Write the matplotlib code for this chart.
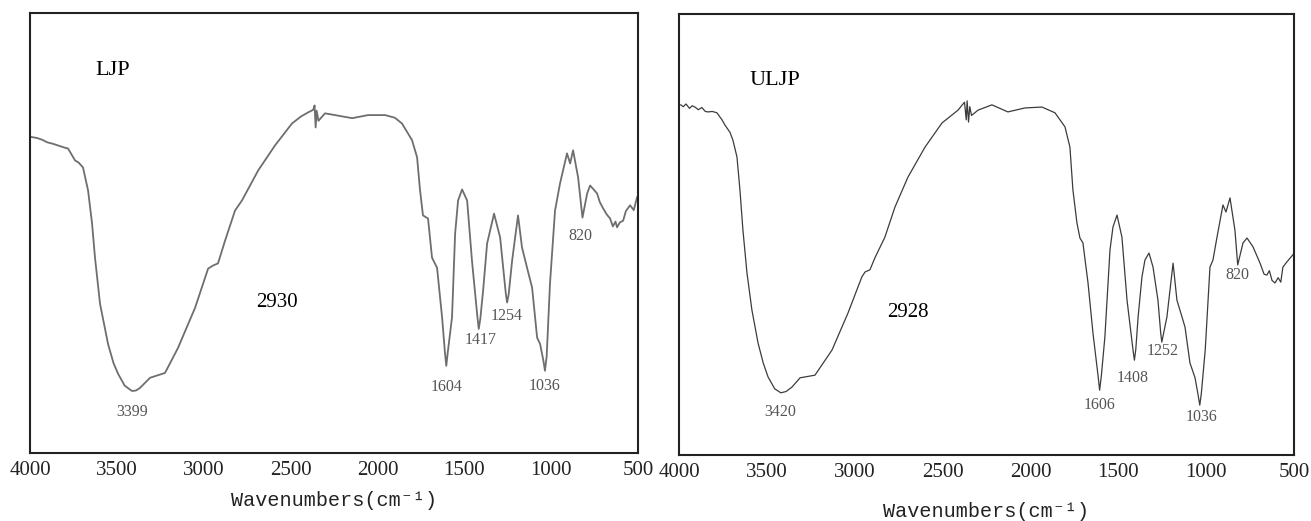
import matplotlib
matplotlib.use("Agg")
import matplotlib.pyplot as plt

# ---- data (wavenumber, transmittance %) ----
ljp_wn = [3990, 3960, 3930, 3900, 3870, 3839, 3800, 3781, 3741, 3720, 3695, 3666, 3643, 3626,
          3597, 3551, 3520, 3493, 3455, 3413, 3390, 3367, 3309, 3223, 3148, 3050, 2975, 2947,
          2918, 2877, 2820, 2780, 2687, 2590, 2492, 2440, 2400, 2370, 2362, 2356, 2350, 2340,
          2302, 2244, 2146, 2054, 1956, 1900, 1859, 1801, 1772, 1755, 1738, 1709, 1686, 1657,
          1628, 1612, 1604, 1595, 1571, 1553, 1536, 1513, 1484, 1456, 1425, 1417, 1408, 1392,
          1369, 1329, 1294, 1262, 1254, 1245, 1225, 1191, 1168, 1139, 1110, 1081, 1064, 1045,
          1036, 1026, 1007, 978, 949, 909, 891, 874, 845, 820, 793, 776, 736, 720, 701, 680,
          661, 645, 630, 621, 605, 586, 570, 546, 525, 506]
ljp_t = [71.8, 71.6, 71.2, 70.6, 70.3, 69.9, 69.4, 69.2, 66.5, 66.0, 64.9, 59.7, 52.2, 44.4,
         33.9, 24.8, 20.5, 18.0, 15.3, 14.1, 14.2, 14.8, 17.1, 18.2, 23.9, 33.0, 41.9, 42.6,
         43.1, 48.3, 55.1, 57.4, 64.2, 69.9, 74.9, 76.5, 77.4, 78.0, 79.0, 74.0, 77.8, 75.5,
         77.2, 76.8, 76.1, 76.8, 76.8, 76.2, 74.9, 71.1, 67.2, 59.7, 54.0, 53.3, 44.4, 42.1,
         30.8, 23.0, 19.8, 23.0, 30.8, 49.9, 57.4, 59.9, 57.4, 43.7, 31.0, 28.2, 30.5, 36.9,
         47.6, 54.4, 49.0, 36.5, 34.2, 36.0, 43.7, 54.0, 46.7, 42.1, 37.6, 26.2, 24.8, 21.0,
         18.7, 22.0, 38.5, 55.1, 61.3, 68.1, 65.8, 68.8, 62.6, 53.5, 59.0, 60.8, 59.0, 57.0,
         55.6, 54.2, 53.3, 51.5, 52.6, 51.3, 52.4, 52.8, 55.0, 56.3, 55.2, 58.1]

uljp_wn = [3990, 3975, 3960, 3940, 3925, 3909, 3890, 3870, 3850, 3835, 3810, 3784, 3755,
           3738, 3710, 3693, 3670, 3653, 3636, 3613, 3585, 3550, 3520, 3493, 3455, 3420,
           3390, 3357, 3311, 3226, 3129, 3038, 2959, 2941, 2913, 2885, 2828, 2771, 2697,
           2600, 2503, 2440, 2412, 2375, 2365, 2360, 2352, 2345, 2335, 2298, 2219, 2128,
           2031, 1934, 1860, 1803, 1775, 1758, 1735, 1718, 1701, 1672, 1644, 1615, 1606,
           1596, 1576, 1547, 1530, 1507, 1479, 1450, 1415, 1408, 1400, 1387, 1365, 1348,
           1325, 1302, 1274, 1258, 1252, 1245, 1223, 1188, 1166, 1137, 1120, 1092, 1063,
           1045, 1036, 1027, 1005, 978, 961, 938, 904, 887, 864, 836, 820, 790, 767, 733,
           693, 670, 654, 640, 625, 608, 590, 575, 563, 540, 506]
uljp_t = [79.4, 79.0, 79.6, 78.6, 79.2, 78.9, 78.3, 78.8, 77.9, 77.8, 77.9, 77.6, 76.0,
          74.8, 73.2, 71.4, 67.6, 60.1, 51.0, 41.3, 32.9, 25.4, 20.8, 17.7, 15.0, 14.1,
          14.4, 15.4, 17.5, 18.1, 23.8, 32.2, 40.4, 41.5, 42.0, 44.7, 49.4, 56.2, 63.0,
          69.8, 75.3, 77.3, 78.2, 80.0, 76.0, 80.3, 75.5, 79.0, 77.0, 78.2, 79.4, 77.8,
          78.7, 78.9, 77.6, 74.4, 69.8, 60.1, 52.6, 49.2, 48.1, 39.0, 27.7, 18.0, 14.7,
          18.0, 26.8, 46.5, 51.7, 54.4, 49.4, 35.1, 23.5, 21.5, 24.0, 31.3, 40.4, 44.2,
          45.8, 42.6, 35.1, 27.5, 25.6, 27.0, 31.3, 43.5, 35.1, 31.3, 29.0, 20.9, 17.5,
          13.5, 11.3, 14.0, 23.8, 42.6, 44.2, 49.4, 56.7, 55.1, 58.3, 51.0, 43.1, 48.1,
          49.2, 47.2, 43.5, 41.0, 40.8, 41.8, 39.6, 39.0, 40.2, 39.2, 42.6, 43.8, 45.4]

# peak labels: (text, x, y)
ljp_peaks = [("3399", 3413, 9.3), ("1604", 1600, 15.0), ("1417", 1409, 25.7),
             ("1254", 1254, 31.1), ("1036", 1041, 15.2), ("820", 834, 49.3)]
uljp_peaks = [("3420", 3425, 9.7), ("1606", 1604, 11.3), ("1408", 1416, 17.5),
              ("1252", 1245, 23.6), ("1036", 1024, 8.6), ("820", 824, 40.8)]

xticks = [4000, 3500, 3000, 2500, 2000, 1500, 1000, 500]

fig = plt.figure(figsize=(13.11, 5.21), dpi=100)
ax1 = fig.add_axes([0.0229, 0.1305, 0.4638, 0.8445])
ax2 = fig.add_axes([0.5179, 0.1267, 0.4691, 0.8464])

panels = [
    (ax1, ljp_wn, ljp_t, ljp_peaks, "LJP", (3522, 87.0), "2930", (2578, 34.3), "#6e6e6e", 1.3),
    (ax2, uljp_wn, uljp_t, uljp_peaks, "ULJP", (3454, 85.0), "2928", (2697, 32.2), "#3c3c3c", 0.9),
]

for ax, wn, t, peaks, name, name_pos, band, band_pos, col, lw in panels:
    ax.plot(wn, t, color=col, lw=lw)
    ax.set_xlim(4000, 500)
    ax.set_ylim(0, 100)
    ax.set_xticks(xticks)
    ax.set_xticklabels([str(v) for v in xticks], family="Liberation Serif", fontsize=15, color="#222222")
    ax.tick_params(axis="x", length=0, pad=6)
    ax.set_yticks([])
    for s in ax.spines.values():
        s.set_linewidth(1.5)
        s.set_color("#222222")
    ax.text(name_pos[0], name_pos[1], name, family="Liberation Serif", fontsize=16,
            ha="center", va="center")
    ax.text(band_pos[0], band_pos[1], band, family="Liberation Serif", fontsize=15,
            ha="center", va="center")
    for lab, x, y in peaks:
        ax.text(x, y, lab, family="Liberation Serif", fontsize=11.5, color="#555555",
                ha="center", va="center")

ax1.set_xlabel("Wavenumbers(cm⁻¹)", family=["Liberation Mono", "DejaVu Sans Mono"],
               fontsize=14.5, labelpad=8, color="#222222")
ax2.set_xlabel("Wavenumbers(cm⁻¹)", family=["Liberation Mono", "DejaVu Sans Mono"],
               fontsize=14.5, labelpad=14, color="#222222")

fig.savefig("out.png", dpi=100)
